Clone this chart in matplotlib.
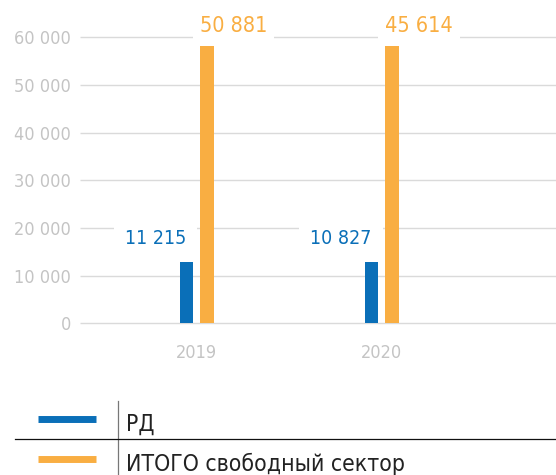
import matplotlib.pyplot as plt
import numpy as np
from matplotlib import font_manager
from matplotlib.ticker import FuncFormatter

# ищем узкий (condensed) шрифт, похожий на оригинальный DIN
narrow = None
for f in font_manager.fontManager.ttflist:
    nm = f.name.lower()
    if ('narrow' in nm or 'condensed' in nm or f.stretch in ('condensed', 'semi-condensed')) \
            and f.weight in (400, 'normal', 'regular') and f.style == 'normal':
        narrow = f
        break

if narrow is not None:
    FAMILY = narrow.name
    STRETCH = narrow.stretch
else:
    FAMILY = 'DejaVu Sans'
    STRETCH = 'normal'
plt.rcParams['font.family'] = [FAMILY, 'DejaVu Sans']
plt.rcParams['font.stretch'] = STRETCH

# ==================== данные ====================
years = ['2019', '2020']
series_names = ['РД', 'ИТОГО свободный сектор']
# высота столбцов, как нарисовано на исходной картинке
rd_bars = [12900, 12900]
free_bars = [58200, 58200]
# подписи над столбцами
rd_labels = [11215, 10827]
free_labels = [50881, 45614]
y_ticks = [0, 10000, 20000, 30000, 40000, 50000, 60000]

BLUE = '#0A6FB8'
ORANGE = '#F9AE42'
GRAY_TXT = '#C4C4C4'


def fmt(v):
    return f'{v:,.0f}'.replace(',', ' ')


fig = plt.figure(figsize=(5.56, 4.75), dpi=100)
ax = fig.add_axes([80 / 556, 1 - 323.3 / 475, 476 / 556, 323.3 / 475])

x = np.arange(len(years))
w = 0.073
off = 0.055
ax.bar(x - off, rd_bars, width=w, color=BLUE, zorder=3)
ax.bar(x + off, free_bars, width=w, color=ORANGE, zorder=3)

# сетка вручную, чтобы линия нуля не обрезалась
ax.hlines(y_ticks, -0.63, 1.94, color='#DADADA', linewidth=1, zorder=0, clip_on=False)

# подписи значений
for i in range(len(years)):
    ax.annotate(fmt(rd_labels[i]), xy=(x[i] - off + w / 2, rd_bars[i]),
                xytext=(-5, 10), textcoords='offset points',
                ha='right', va='bottom', color=BLUE, fontsize=14, zorder=2.5,
                bbox=dict(facecolor='white', edgecolor='none', pad=8))
    ax.annotate(fmt(free_labels[i]), xy=(x[i] + off - w / 2, free_bars[i]),
                xytext=(0, 7), textcoords='offset points',
                ha='left', va='bottom', color=ORANGE, fontsize=15.5, zorder=2.5,
                bbox=dict(facecolor='white', edgecolor='none', pad=5))

ax.set_xlim(-0.63, 1.94)
ax.set_ylim(0, 67820)
ax.set_yticks(y_ticks)
ax.yaxis.set_major_formatter(FuncFormatter(lambda v, p: fmt(v)))
ax.set_xticks(x)
ax.set_xticklabels(years)
ax.tick_params(axis='y', length=0, pad=6.5, labelsize=13, labelcolor=GRAY_TXT)
ax.tick_params(axis='x', length=0, pad=15, labelsize=13, labelcolor=GRAY_TXT)
for s in ax.spines.values():
    s.set_visible(False)

# ==================== легенда ====================
lax = fig.add_axes([0, 0, 1, 1], zorder=-1)
lax.set_xlim(0, 556)
lax.set_ylim(475, 0)
lax.axis('off')
lax.plot([38, 96], [419, 419], color=BLUE, linewidth=5, solid_capstyle='butt')
lax.plot([38, 96], [458.5, 458.5], color=ORANGE, linewidth=5, solid_capstyle='butt')
lax.plot([118.3, 118.3], [400.5, 475], color='#777777', linewidth=0.9)
lax.plot([15, 556], [439.3, 439.3], color='#111111', linewidth=0.9)
lax.text(126, 431, series_names[0], fontsize=16.5, color='#222222', va='baseline')
lax.text(126, 470.5, series_names[1], fontsize=16.5, color='#222222', va='baseline')

plt.savefig('out.png', dpi=100)
